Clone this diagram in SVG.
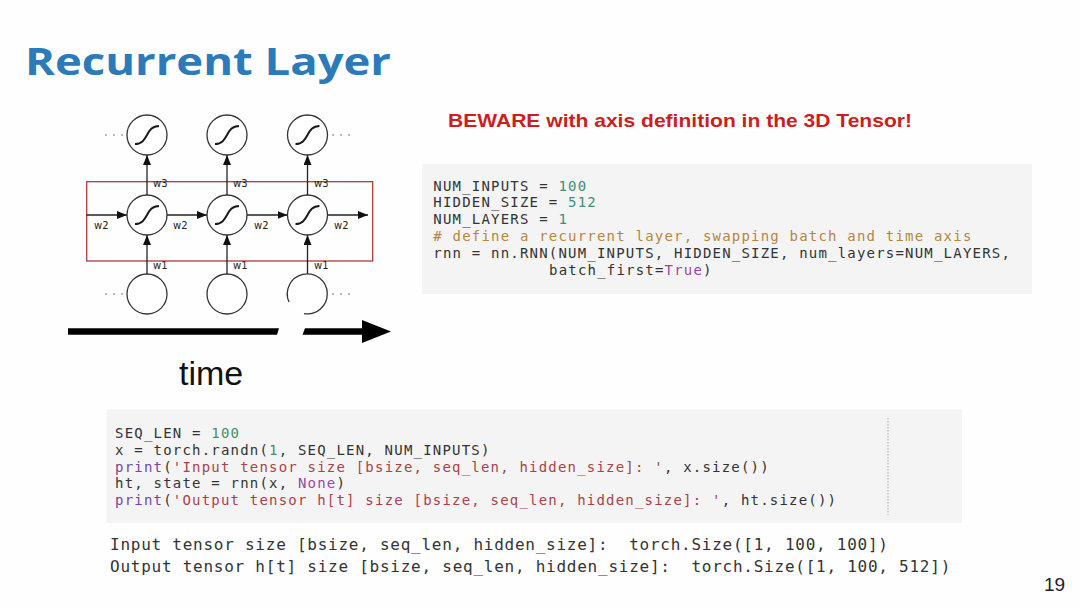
<svg xmlns="http://www.w3.org/2000/svg" width="1080" height="607" viewBox="0 0 1080 607">
<style>
.title{font-family:"Open Sans","Liberation Sans",sans-serif;font-weight:700;font-size:38px;fill:#2b7bba}
.warn{font-family:"Liberation Sans",Arial,sans-serif;font-weight:700;font-size:18.5px;fill:#cc1e1e}
.code{font-family:"DejaVu Sans Mono","Liberation Mono",monospace;font-size:14px;letter-spacing:1.2px;fill:#333}
.out{font-family:"DejaVu Sans Mono","Liberation Mono",monospace;font-size:16px;letter-spacing:0.75px;fill:#333}
.num{fill:#3f8f70}
.cmt{fill:#b8853f}
.kw{fill:#9b44aa}
.fn{fill:#74479e}
.str{fill:#a8434a}
.wl{font-family:"DejaVu Sans","Liberation Sans",sans-serif;font-size:10px;fill:#222}
.node{fill:#fff;stroke:#333;stroke-width:1.3}
.sig{fill:none;stroke:#1a1a1a;stroke-width:2}
.edge{stroke:#222;stroke-width:1.3;fill:none}
.dot{fill:#999}
.codebg{fill:#f4f4f4}
</style>
<defs>
<marker id="ah" viewBox="0 0 10 8" refX="10" refY="4" markerWidth="10" markerHeight="8" markerUnits="userSpaceOnUse" orient="auto">
<path d="M0,0 L10,4 L0,8 z" fill="#111"/>
</marker>
<path id="sg" d="M-12,9 C2,9 -2,-9 12,-9"/>
</defs>
<rect width="1080" height="607" fill="#fefefe"/>

<g id="title"><text class="title" x="25" y="75" textLength="366" lengthAdjust="spacingAndGlyphs">Recurrent Layer</text></g>
<g id="warning"><text class="warn" x="448" y="126.5" textLength="464" lengthAdjust="spacingAndGlyphs">BEWARE with axis definition in the 3D Tensor!</text></g>

<g id="rnn-box"><rect x="86.7" y="181.7" width="286" height="79.3" fill="none" stroke="#b03a3a" stroke-width="1.3"/></g>

<g id="connectors">
<line class="edge" x1="147" y1="274" x2="147" y2="235" marker-end="url(#ah)"/>
<line class="edge" x1="227" y1="274" x2="227" y2="235" marker-end="url(#ah)"/>
<line class="edge" x1="307.5" y1="274" x2="307.5" y2="235" marker-end="url(#ah)"/>
<line class="edge" x1="147" y1="195" x2="147" y2="155" marker-end="url(#ah)"/>
<line class="edge" x1="227" y1="195" x2="227" y2="155" marker-end="url(#ah)"/>
<line class="edge" x1="307.5" y1="195" x2="307.5" y2="155" marker-end="url(#ah)"/>
<line class="edge" x1="86.7" y1="215" x2="127" y2="215" marker-end="url(#ah)"/>
<line class="edge" x1="167" y1="215" x2="207" y2="215" marker-end="url(#ah)"/>
<line class="edge" x1="247" y1="215" x2="287.5" y2="215" marker-end="url(#ah)"/>
<line class="edge" x1="327.5" y1="215" x2="368" y2="215" marker-end="url(#ah)"/>
<text class="wl" x="153" y="187">w3</text>
<text class="wl" x="233" y="187">w3</text>
<text class="wl" x="314" y="187">w3</text>
<text class="wl" x="94" y="229">w2</text>
<text class="wl" x="173" y="229">w2</text>
<text class="wl" x="254" y="229">w2</text>
<text class="wl" x="334" y="229">w2</text>
<text class="wl" x="153" y="269">w1</text>
<text class="wl" x="233" y="269">w1</text>
<text class="wl" x="314" y="269">w1</text>
</g>

<g id="out1"><circle class="node" cx="147" cy="135" r="20"/><use href="#sg" class="sig" x="147" y="135"/></g>
<g id="out2"><circle class="node" cx="227" cy="135" r="20"/><use href="#sg" class="sig" x="227" y="135"/></g>
<g id="out3"><circle class="node" cx="307.5" cy="135" r="20"/><use href="#sg" class="sig" x="307.5" y="135"/></g>
<g id="hid1"><circle class="node" cx="147" cy="215" r="20"/><use href="#sg" class="sig" x="147" y="215"/></g>
<g id="hid2"><circle class="node" cx="227" cy="215" r="20"/><use href="#sg" class="sig" x="227" y="215"/></g>
<g id="hid3"><circle class="node" cx="307.5" cy="215" r="20"/><use href="#sg" class="sig" x="307.5" y="215"/></g>
<g id="in1"><circle class="node" cx="147" cy="294" r="20"/></g>
<g id="in2"><circle class="node" cx="227" cy="294" r="20"/></g>
<g id="in3"><path class="node" fill="none" d="M289,302 A20,20 0 1 1 304,313.6"/></g>

<g id="dots">
<circle class="dot" cx="106" cy="135" r="0.9"/><circle class="dot" cx="114" cy="135" r="0.9"/><circle class="dot" cx="122" cy="135" r="0.9"/>
<circle class="dot" cx="333" cy="135" r="0.9"/><circle class="dot" cx="341" cy="135" r="0.9"/><circle class="dot" cx="349" cy="135" r="0.9"/>
<circle class="dot" cx="106" cy="294" r="0.9"/><circle class="dot" cx="114" cy="294" r="0.9"/><circle class="dot" cx="122" cy="294" r="0.9"/>
<circle class="dot" cx="333" cy="294" r="0.9"/><circle class="dot" cx="341" cy="294" r="0.9"/><circle class="dot" cx="349" cy="294" r="0.9"/>
</g>

<g id="time-axis">
<polygon points="68,328.3 279,328.3 277,334.8 68,334.8" fill="#000"/>
<polygon points="305,328.3 363,328.3 363,334.8 302.5,334.8" fill="#000"/>
<polygon points="362,320 391,331.5 362,343" fill="#000"/>
<text x="179" y="385" font-family="Liberation Sans, Arial, sans-serif" font-size="34" fill="#111">time</text>
</g>

<g id="code-rnn">
<rect class="codebg" x="422" y="164" width="610" height="130"/>
<text class="code" x="433.3" y="190.5">NUM_INPUTS = <tspan class="num">100</tspan></text>
<text class="code" x="433.3" y="207.3">HIDDEN_SIZE = <tspan class="num">512</tspan></text>
<text class="code" x="433.3" y="224.1">NUM_LAYERS = <tspan class="num">1</tspan></text>
<text class="code cmt" x="433.3" y="240.9"># define a recurrent layer, swapping batch and time axis</text>
<text class="code" x="433.3" y="257.7">rnn = nn.RNN(NUM_INPUTS, HIDDEN_SIZE, num_layers=NUM_LAYERS,</text>
<text class="code" x="549" y="274.5">batch_first=<tspan class="kw">True</tspan>)</text>
</g>

<g id="code-run">
<rect class="codebg" x="106.5" y="409.5" width="855.5" height="113.5"/>
<line x1="888" y1="418" x2="888" y2="515" stroke="#aaa" stroke-width="1" stroke-dasharray="1.5,1.5"/>
<text class="code" x="115" y="438.3">SEQ_LEN = <tspan class="num">100</tspan></text>
<text class="code" x="115" y="455">x = torch.randn(<tspan class="num">1</tspan>, SEQ_LEN, NUM_INPUTS)</text>
<text class="code" x="115" y="471.7"><tspan class="fn">print</tspan>(<tspan class="str">'Input tensor size [bsize, seq_len, hidden_size]: '</tspan>, x.size())</text>
<text class="code" x="115" y="488.4">ht, state = rnn(x, <tspan class="kw">None</tspan>)</text>
<text class="code" x="115" y="505.1"><tspan class="fn">print</tspan>(<tspan class="str">'Output tensor h[t] size [bsize, seq_len, hidden_size]: '</tspan>, ht.size())</text>
</g>

<g id="output">
<text class="out" x="110" y="549.5" xml:space="preserve">Input tensor size [bsize, seq_len, hidden_size]:  torch.Size([1, 100, 100])</text>
<text class="out" x="110" y="571.8" xml:space="preserve">Output tensor h[t] size [bsize, seq_len, hidden_size]:  torch.Size([1, 100, 512])</text>
</g>

<g id="page-number"><text x="1044" y="591" font-family="Liberation Sans, Arial, sans-serif" font-size="19" fill="#222">19</text></g>
</svg>
